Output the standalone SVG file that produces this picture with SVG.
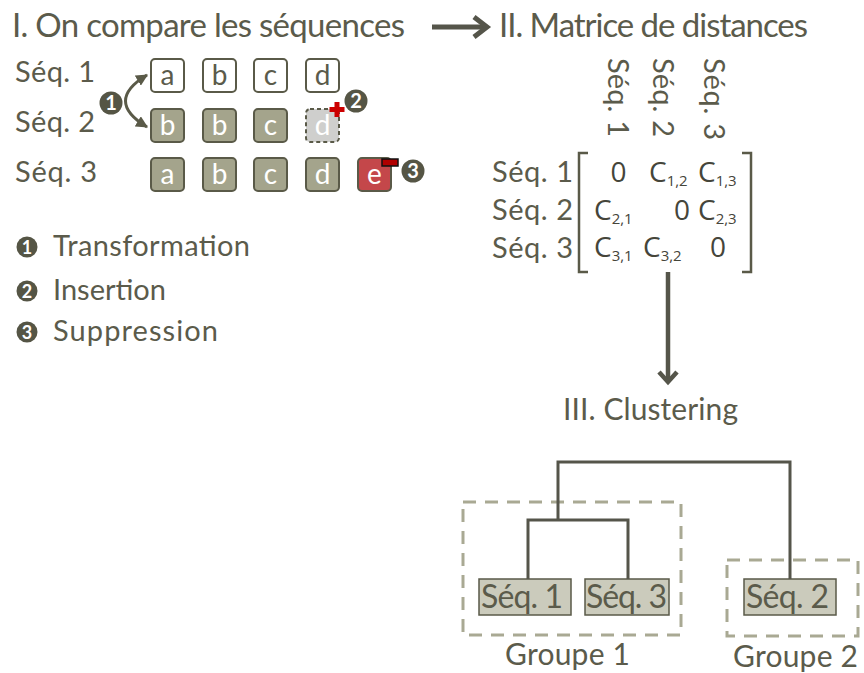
<svg xmlns="http://www.w3.org/2000/svg" width="864" height="673" viewBox="0 0 864 673">
<style>
text{font-family:Lato,"Noto Sans","Liberation Sans",sans-serif;fill:#5b5b4b}
.t{font-size:33px}
.lbl{font-size:29px}
.let{font-size:28px;text-anchor:middle}
.wl{fill:#ffffff}
.bx{stroke:#5a5a48;stroke-width:2}
.num{font-family:"Open Sans","Noto Sans","Liberation Sans",sans-serif;font-size:28px;fill:#45453a}
.sub{font-size:15px}
.circ{fill:#555545}
.cn{font-size:20px;fill:#ffffff;text-anchor:middle;font-weight:bold}
.ln{fill:none;stroke:#55554a;stroke-width:3}
.grp{fill:none;stroke:#a9a993;stroke-width:3;stroke-dasharray:13 9}
.leaf{fill:#cbcbbc;stroke:#5a5a48;stroke-width:1.5}
</style>
<defs>
<marker id="ah" viewBox="0 0 10 10" refX="9" refY="5" markerWidth="4" markerHeight="4" orient="auto-start-reverse" markerUnits="strokeWidth">
<path d="M0 0 L10 5 L0 10 Z" fill="#5a5a48"/>
</marker>
</defs>

<g id="titles">
<text class="t" x="12" y="37" textLength="393">I. On compare les séquences</text>
<text class="t" x="499" y="37" textLength="309">II. Matrice de distances</text>
<text class="lbl" x="563" y="420" style="font-size:30px" textLength="175">III. Clustering</text>
</g>

<g id="seq-labels">
<text class="lbl" x="15" y="82" textLength="80">Séq. 1</text>
<text class="lbl" x="15" y="132" textLength="80">Séq. 2</text>
<text class="lbl" x="15" y="182" textLength="82">Séq. 3</text>
</g>

<g id="seq1">
<rect class="bx" x="151" y="59" width="33" height="33" rx="4" fill="#ffffff"/>
<text class="let" x="167.5" y="85" fill="#222">a</text>
<rect class="bx" x="203" y="59" width="33" height="33" rx="4" fill="#ffffff"/>
<text class="let" x="219.5" y="85">b</text>
<rect class="bx" x="254" y="59" width="33" height="33" rx="4" fill="#ffffff"/>
<text class="let" x="270.5" y="85">c</text>
<rect class="bx" x="306" y="59" width="33" height="33" rx="4" fill="#ffffff"/>
<text class="let" x="322.5" y="85">d</text>
</g>

<g id="seq2">
<rect class="bx" x="151" y="109" width="33" height="33" rx="4" fill="#a4a48c"/>
<text class="let wl" x="167.5" y="135">b</text>
<rect class="bx" x="203" y="109" width="33" height="33" rx="4" fill="#a4a48c"/>
<text class="let wl" x="219.5" y="135">b</text>
<rect class="bx" x="254" y="109" width="33" height="33" rx="4" fill="#a4a48c"/>
<text class="let wl" x="270.5" y="135">c</text>
<rect class="bx" x="306" y="109" width="33" height="33" rx="4" fill="#cfcfcd" stroke-dasharray="4 3"/>
<text class="let wl" x="322.5" y="135">d</text>
</g>

<g id="seq3">
<rect class="bx" x="151" y="158" width="33" height="33" rx="4" fill="#a4a48c"/>
<text class="let wl" x="167.5" y="184">a</text>
<rect class="bx" x="203" y="158" width="33" height="33" rx="4" fill="#a4a48c"/>
<text class="let wl" x="219.5" y="184">b</text>
<rect class="bx" x="254" y="158" width="33" height="33" rx="4" fill="#a4a48c"/>
<text class="let wl" x="270.5" y="184">c</text>
<rect class="bx" x="306" y="158" width="33" height="33" rx="4" fill="#a4a48c"/>
<text class="let wl" x="322.5" y="184">d</text>
<rect class="bx" x="358" y="158" width="33" height="33" rx="4" fill="#c4474a"/>
<text class="let wl" x="374.5" y="184">e</text>
</g>

<g id="edit-marks">
<path d="M334.5 102 h5 v5 h5 v5 h-5 v5 h-5 v-5 h-5 v-5 h5 z" fill="#cc0000"/>
<rect x="382" y="159" width="16" height="7" fill="#b00000" stroke="#111" stroke-width="1.5"/>
<circle class="circ" cx="111" cy="103" r="11.5"/>
<text class="cn" x="111" y="110">1</text>
<circle class="circ" cx="356" cy="101" r="11.5"/>
<text class="cn" x="356" y="108">2</text>
<circle class="circ" cx="413" cy="171" r="11.5"/>
<text class="cn" x="413" y="178">3</text>
</g>

<g id="legend">
<circle class="circ" cx="27" cy="247" r="10.5"/>
<text class="cn" x="27" y="253.5" style="font-size:18px">1</text>
<text class="lbl" x="53" y="256" textLength="197">Transformation</text>
<circle class="circ" cx="27" cy="291" r="10.5"/>
<text class="cn" x="27" y="297.5" style="font-size:18px">2</text>
<text class="lbl" x="53" y="300" textLength="113">Insertion</text>
<circle class="circ" cx="27" cy="332" r="10.5"/>
<text class="cn" x="27" y="338.5" style="font-size:18px">3</text>
<text class="lbl" x="53" y="341" textLength="165">Suppression</text>
</g>

<g id="matrix">
<text class="lbl" transform="translate(608,58) rotate(90)" textLength="79">Séq. 1</text>
<text class="lbl" transform="translate(653,58) rotate(90)" textLength="79">Séq. 2</text>
<text class="lbl" transform="translate(704,58) rotate(90)" textLength="82">Séq. 3</text>
<text class="lbl" x="492" y="182" textLength="81">Séq. 1</text>
<text class="lbl" x="492" y="220" textLength="81">Séq. 2</text>
<text class="lbl" x="492" y="258" textLength="81">Séq. 3</text>
<path d="M588 153 H579 V272 H588" fill="none" stroke="#5a5a48" stroke-width="2.5"/>
<path d="M742 153 H751 V272 H742" fill="none" stroke="#5a5a48" stroke-width="2.5"/>
<text class="num" x="618.5" y="182" text-anchor="middle">0</text>
<text class="num" x="649" y="182">C<tspan class="sub" dy="4">1,2</tspan></text>
<text class="num" x="698" y="182">C<tspan class="sub" dy="4">1,3</tspan></text>
<text class="num" x="594" y="220">C<tspan class="sub" dy="4">2,1</tspan></text>
<text class="num" x="682" y="220" text-anchor="middle">0</text>
<text class="num" x="698" y="220">C<tspan class="sub" dy="4">2,3</tspan></text>
<text class="num" x="594" y="257">C<tspan class="sub" dy="4">3,1</tspan></text>
<text class="num" x="643" y="257">C<tspan class="sub" dy="4">3,2</tspan></text>
<text class="num" x="718" y="257" text-anchor="middle">0</text>
</g>

<g id="groupe1">
<rect class="grp" x="463" y="502" width="218" height="133"/>
<rect class="leaf" x="479" y="579" width="92" height="36"/>
<text class="lbl" x="481" y="608" style="font-size:32px" textLength="82">Séq. 1</text>
<rect class="leaf" x="585" y="579" width="84" height="36"/>
<text class="lbl" x="586" y="608" style="font-size:32px" textLength="81">Séq. 3</text>
<text class="lbl" x="505" y="665" style="font-size:30px" textLength="125">Groupe 1</text>
</g>

<g id="groupe2">
<rect class="grp" x="727" y="560" width="131" height="76"/>
<rect class="leaf" x="744" y="579" width="92" height="36"/>
<text class="lbl" x="746" y="608" style="font-size:32px" textLength="83">Séq. 2</text>
<text class="lbl" x="733" y="667" style="font-size:30px" textLength="125">Groupe 2</text>
</g>

<g id="connectors">
<path d="M147 75 Q104 101 147 127" fill="none" stroke="#5a5a48" stroke-width="3" marker-start="url(#ah)" marker-end="url(#ah)"/>
<path d="M432 27 H485" fill="none" stroke="#55554a" stroke-width="5"/>
<path d="M474 17 L487 27 L474 37" fill="none" stroke="#55554a" stroke-width="5"/>
<path d="M668 272 V381" fill="none" stroke="#55554a" stroke-width="4.5"/>
<path d="M659 372 L668 382 L677 372" fill="none" stroke="#55554a" stroke-width="4.5"/>
<path class="ln" d="M558 520 V462 H790 V579"/>
<path class="ln" d="M528 579 V520 H628 V579"/>
</g>
</svg>
